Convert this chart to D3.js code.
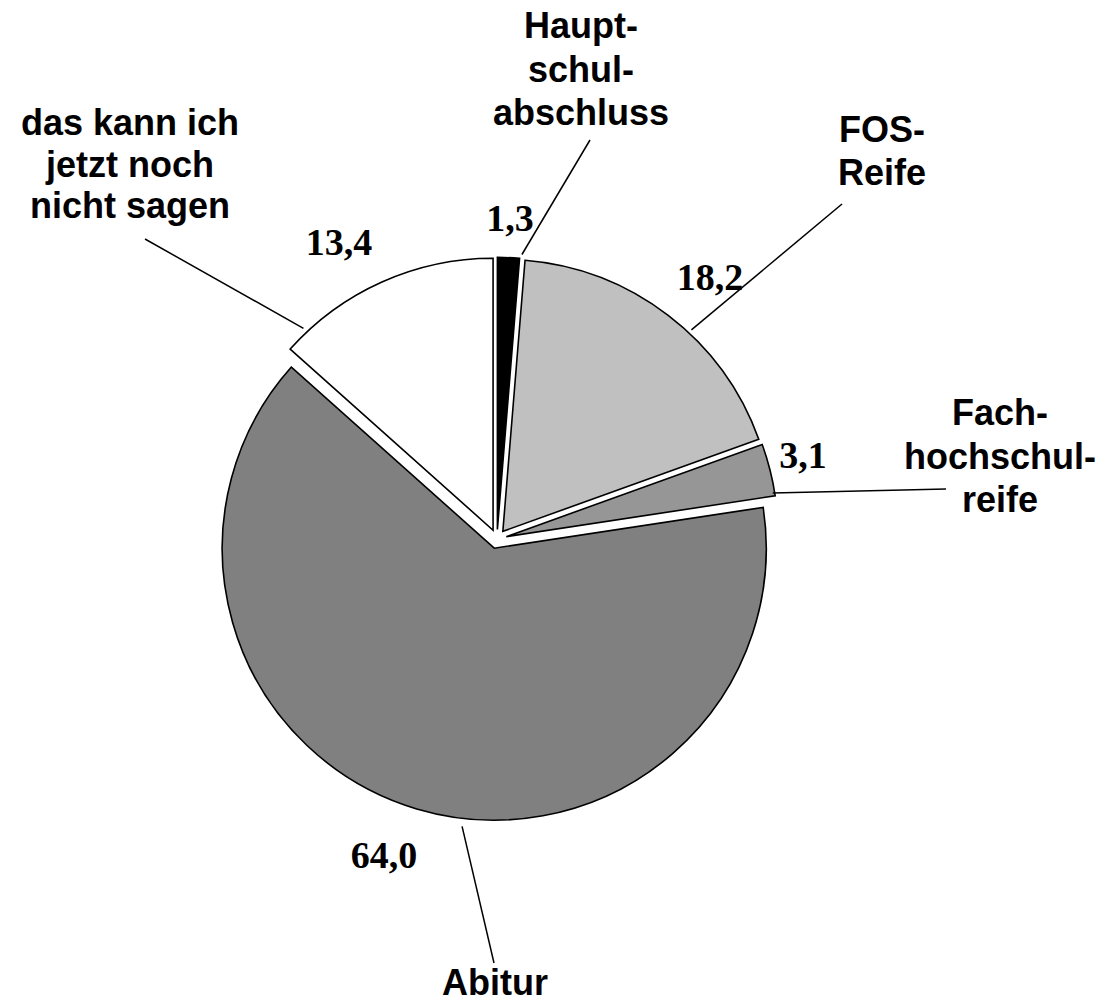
<!DOCTYPE html>
<html>
<head>
<meta charset="utf-8">
<script src="https://cdn.jsdelivr.net/npm/d3@7"></script>
<style>
  html, body { margin: 0; padding: 0; background: #fff; }
  svg { display: block; }
</style>
</head>
<body>
<div id="chart"></div>
<script>
// ---- data ----
const categories = ["Hauptschulabschluss", "FOS-Reife", "Fachhochschulreife", "Abitur", "das kann ich jetzt noch nicht sagen"];
const values = [1.3, 18.2, 3.1, 64.0, 13.4];
const labelLines = [
  ["Haupt-", "schul-", "abschluss"],
  ["FOS-", "Reife"],
  ["Fach-", "hochschul-", "reife"],
  ["Abitur"],
  ["das kann ich", "jetzt noch", "nicht sagen"]
];

// ---- styles / layout ----
const sliceColors = ["#000000", "#c0c0c0", "#969696", "#808080", "#ffffff"];
const layout = [
  { label: [581, 38],  lineH: 43.5, value: [510, 231], leadAngle: 5.1,   leadR: 276, leadEnd: [590, 140] },
  { label: [882, 142], lineH: 43,   value: [710, 290], leadAngle: 43.1,  leadR: 276, leadEnd: [842, 204] },
  { label: [1000, 425],lineH: 43.5, value: [803, 468], leadAngle: 80.7,  leadR: 270, leadEnd: [946, 489] },
  { label: [495, 995], lineH: 43,   value: [384, 868], leadAngle: 186.6, leadR: 280, leadEnd: [494, 963] },
  { label: [130, 135], lineH: 41.5, value: [339, 255], leadAngle: 316.8, leadR: 277, leadEnd: [145, 239] }
];

const W = 1111, H = 1002;
const cx = 497, cy = 539, R = 272, explode = 9.6;

const svg = d3.select("#chart").append("svg")
  .attr("width", W).attr("height", H)
  .attr("viewBox", `0 0 ${W} ${H}`);
svg.append("rect").attr("width", W).attr("height", H).attr("fill", "#fff");

const pie = d3.pie().sort(null).value(d => d)(values);
const arc = d3.arc().innerRadius(0).outerRadius(R);

const offsetOf = a => {
  const m = (a.startAngle + a.endAngle) / 2;
  return [cx + explode * Math.sin(m), cy - explode * Math.cos(m)];
};

const g = svg.append("g");
g.selectAll("path.slice").data(pie).join("path")
  .attr("class", "slice")
  .attr("transform", d => { const o = offsetOf(d); return `translate(${o[0]},${o[1]})`; })
  .attr("d", arc)
  .attr("fill", (d, i) => sliceColors[i])
  .attr("stroke", "#000")
  .attr("stroke-width", 1.6)
  .attr("stroke-linejoin", "miter");

// leader lines
svg.selectAll("line.lead").data(pie).join("line")
  .attr("class", "lead")
  .attr("x1", (d, i) => { const o = offsetOf(d); const a = layout[i].leadAngle * Math.PI / 180; return o[0] + layout[i].leadR * Math.sin(a); })
  .attr("y1", (d, i) => { const o = offsetOf(d); const a = layout[i].leadAngle * Math.PI / 180; return o[1] - layout[i].leadR * Math.cos(a); })
  .attr("x2", (d, i) => layout[i].leadEnd[0])
  .attr("y2", (d, i) => layout[i].leadEnd[1])
  .attr("stroke", "#000")
  .attr("stroke-width", 1.5);

// value labels
const fmt = d3.format(".1f");
svg.selectAll("text.val").data(pie).join("text")
  .attr("class", "val")
  .attr("x", (d, i) => layout[i].value[0])
  .attr("y", (d, i) => layout[i].value[1])
  .attr("text-anchor", "middle")
  .attr("font-family", "'Liberation Serif', 'Times New Roman', serif")
  .attr("font-weight", "bold")
  .attr("font-size", 38)
  .attr("fill", "#000")
  .text(d => fmt(d.data).replace(".", ","));

// category labels
const lbl = svg.selectAll("text.cat").data(categories).join("text")
  .attr("class", "cat")
  .attr("text-anchor", "middle")
  .attr("font-family", "'Liberation Sans', Arial, sans-serif")
  .attr("font-weight", "bold")
  .attr("font-size", 36)
  .attr("fill", "#000");
lbl.each(function(c, i) {
  const t = d3.select(this);
  labelLines[i].forEach((ln, k) => {
    t.append("tspan")
      .attr("x", layout[i].label[0])
      .attr("y", layout[i].label[1] + k * layout[i].lineH)
      .text(ln);
  });
});
</script>
</body>
</html>
